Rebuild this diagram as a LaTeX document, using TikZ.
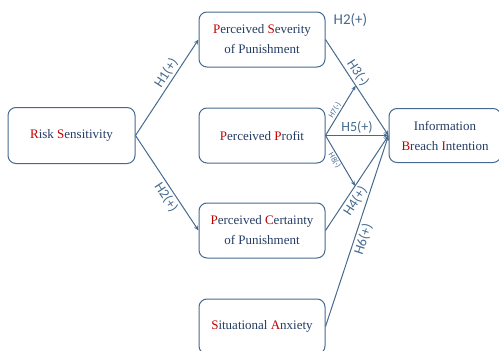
\documentclass[tikz,border=0pt]{standalone}
\usepackage{fontspec}
\setmainfont{Liberation Serif}
\newfontfamily\hypfont{Carlito}
\usepackage{xcolor}
\usepackage{tikz}
\usetikzlibrary{positioning}
\usetikzlibrary{arrows.meta}

\definecolor{boxline}{RGB}{70,106,142}
\definecolor{boxtext}{RGB}{35,60,100}
\definecolor{initred}{RGB}{192,0,0}
\newcommand{\ini}[1]{\textcolor{initred}{#1}}

\begin{document}
\begin{tikzpicture}[x=1pt, y=1pt,
  var/.style={draw=boxline, line width=1pt, rounded corners=8pt, minimum width=126pt, minimum height=55pt, align=center, text=boxtext, font=\fontsize{13}{20}\selectfont},
  hyp/.style={text=boxline, font=\hypfont\fontsize{14}{14}\selectfont, inner sep=2pt},
  hsmall/.style={text=boxline, font=\hypfont\fontsize{8}{8}\selectfont, inner sep=1pt},
  link/.style={->, draw=boxline, line width=1pt},
  >={Stealth[length=5pt,width=4pt]}]
\useasboundingbox (0,0) rectangle (499,-351);

% variables
\node (risk) [var, minimum width=127pt, minimum height=56pt] at (71.5,-135.5) {\ini{R}isk \ini{S}ensitivity};
\node (prof) [var, right=63pt of risk] {\ini{P}erceived \ini{P}rofit};
\node (sev) [var, above=40pt of prof] {\ini{P}erceived \ini{S}everity\\of Punishment};
\node (cert) [var, below=39pt of prof] {\ini{P}erceived \ini{C}ertainty\\of Punishment};
\node (anx) [var, below=40pt of cert] {\ini{S}ituational \ini{A}nxiety};
\node (ibi) [var, minimum width=112pt, minimum height=54pt, right=63pt of prof] {Information\\\ini{B}reach \ini{I}ntention};

% paths
\draw [link] (risk.east) -- (sev.west) node [hyp, pos=.6, above, sloped] {H1(+)};
\draw [link] (risk.east) -- (cert.west) node [hyp, pos=.6, below, sloped] {H2(+)};
\draw [link] (sev.east) -- (ibi.west) node [hyp, pos=.4, above, sloped] {H3(-)} coordinate [pos=.48] (m3);
\draw [link] (prof.east) -- (ibi.west) node [hyp, midway, above] {H5(+)};
\draw [link] (cert.east) -- (ibi.west) node [hyp, pos=.36, below, sloped] {H4(+)} coordinate [pos=.47] (m4);
\draw [link] (anx.east) -- (ibi.west) node [hyp, pos=.47, below, sloped] {H6(+)};

% moderation
\draw [link] (prof.east) -- (m3) node [hsmall, pos=.45, above, sloped] {H7(-)};
\draw [link] (prof.east) -- (m4) node [hsmall, pos=.45, below, sloped] {H8(-)};

\node (h2top) [hyp, font=\hypfont\fontsize{15}{15}\selectfont, anchor=north west, xshift=6pt] at (sev.north east) {H2(+)};
\end{tikzpicture}
\end{document}
